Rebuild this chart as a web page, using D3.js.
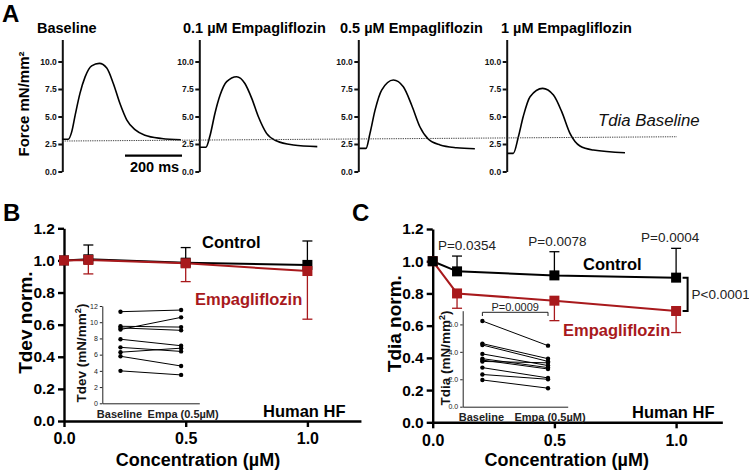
<!DOCTYPE html>
<html><head><meta charset="utf-8">
<script src="https://cdn.jsdelivr.net/npm/d3@7"></script>
<style>
body{margin:0;background:#fff}
svg{display:block;background:#fff}
text{font-family:"Liberation Sans",Arial,Helvetica,sans-serif}
</style>
</head><body>
<svg id="chart" width="749" height="470"></svg>
<script>
// ---------------- DATA ----------------
// Panel A: force traces (time in ms from trace start, force in mN/mm²)
const traceTitles = ["Baseline", "0.1 µM Empagliflozin", "0.5 µM Empagliflozin", "1 µM Empagliflozin"];
const forceTicks = [0, 2.5, 5, 7.5, 10];
const trace1Time  = [0, 21, 33, 45, 62, 80, 103, 130, 156, 179, 202, 226, 255, 290, 349, 416];
const trace1Force = [2.93, 2.93, 3.6, 5.1, 7.1, 8.6, 9.6, 9.83, 9.4, 8.0, 6.2, 4.7, 3.8, 3.3, 3.0, 2.88];
const trace2Time  = [2, 23, 38, 55, 73, 96, 131, 160, 184, 207, 236, 272, 330, 414];
const trace2Force = [2.2, 2.2, 3.3, 5.3, 6.95, 8.17, 8.62, 8.0, 6.65, 5.0, 3.47, 2.77, 2.41, 2.26];
const trace3Time  = [4, 27, 41, 59, 82, 123, 158, 187, 216, 246, 287, 345, 409];
const trace3Force = [2.1, 2.1, 3.47, 5.6, 7.4, 8.32, 7.7, 6.05, 4.07, 2.93, 2.41, 2.16, 2.07];
const trace4Time  = [2, 23, 41, 58, 82, 126, 164, 193, 222, 257, 304, 415];
const trace4Force = [1.65, 1.65, 3.16, 5.0, 6.8, 7.56, 6.95, 5.44, 3.47, 2.32, 1.95, 1.71];
const tdiaBaselineLevels = [2.77, 3.16];   // dotted reference line (start in panel 1, end in panel 4)
const scaleBarMs = 200;

// Panels B & C: normalised force vs concentration
const concentrations = [0, 0.1, 0.5, 1.0];
const concTicks = [0, 0.5, 1.0];
const normTicks = [0, 0.2, 0.4, 0.6, 0.8, 1.0, 1.2];
const tdevControl        = [1.0, 1.007, 0.986, 0.972];
const tdevControlErrUp   = [null, 1.096, 1.08, 1.121];
const tdevEmpa           = [1.0, 1.003, 0.982, 0.934];
const tdevEmpaErrDown    = [null, 0.916, 0.868, 0.634];
const tdiaControl        = [1.0, 0.937, 0.912, 0.898];
const tdiaControlErrUp   = [null, 1.032, 1.059, 1.080];
const tdiaEmpa           = [1.0, 0.80, 0.755, 0.691];
const tdiaEmpaErrDown    = [null, 0.708, 0.631, 0.557];
const tdiaPLabels = ["P=0.0354", "P=0.0078", "P=0.0004"];
const tdiaOverallP = "P<0.0001";

// Insets: paired values
const insetGroups = ["Baseline", "Empa (0.5µM)"];
const insetTdevTicks = [0, 2, 4, 6, 8, 10, 12];
const tdevBaseline = [11.3, 9.5, 9.3, 9.1, 7.9, 6.9, 6.3, 5.8, 4.0];
const tdevEmpaPair = [11.5, 9.4, 9.0, 10.6, 7.1, 6.4, 6.8, 4.6, 3.5];
const insetTdiaTicks = [0, 2, 4, 6];
const tdiaBaseline = [6.25, 4.6, 4.5, 3.85, 3.5, 3.4, 3.3, 2.85, 2.35, 1.95];
const tdiaEmpaPair = [4.45, 3.5, 3.3, 3.0, 2.85, 2.75, 3.2, 2.1, 2.0, 1.35];
const insetP = "P=0.0009";

// ---------------- DRAWING ----------------
const RED = "#a8191c";
const svg = d3.select("#chart");
const FONT = '"Liberation Sans",Arial,Helvetica,sans-serif';

function styleAxis(g, sw, fs, weight, color) {
  g.selectAll("path.domain").attr("stroke", color || "#000").attr("stroke-width", sw);
  g.selectAll(".tick line").attr("stroke", color || "#000").attr("stroke-width", sw);
  g.selectAll(".tick text").attr("font-size", fs).attr("font-weight", weight).attr("fill", color || "#000")
    .attr("font-family", FONT);
}

// ---- Panel A ----
svg.append("text").attr("x", 2).attr("y", 22).attr("font-size", 24).attr("font-weight", "bold").text("A");
const traces = [
  {t: trace1Time, f: trace1Force},
  {t: trace2Time, f: trace2Force},
  {t: trace3Time, f: trace3Force},
  {t: trace4Time, f: trace4Force}
];
const axisXs = [62.3, 199.3, 358.3, 506.7];
const titleXs = [37, 183, 340, 501];
const pxPerMs = 0.285;
const yA = d3.scaleLinear().domain([0, 12]).range([171.5, 39.5]);
const xAs = axisXs.map(ax => d3.scaleLinear().domain([0, 100]).range([ax, ax + 100 * pxPerMs]));

traces.forEach((tr, i) => {
  const g = svg.append("g").attr("transform", `translate(${axisXs[i]},0)`);
  g.call(d3.axisLeft(yA).tickValues(forceTicks).tickFormat(d3.format(".1f")).tickSize(4).tickSizeOuter(0).tickPadding(1.5))
   .call(a => styleAxis(a, 2, 8.5, "bold", "#111"));
  const line = d3.line().x((d, k) => xAs[i](tr.t[k])).y((d, k) => yA(tr.f[k])).curve(d3.curveMonotoneX);
  svg.append("path").datum(tr.t).attr("d", line).attr("fill", "none").attr("stroke", "#000").attr("stroke-width", 1.6);
  svg.append("text").attr("x", titleXs[i]).attr("y", 33).attr("font-size", 14.5).attr("font-weight", "bold").text(traceTitles[i]);
});

// dotted Tdia baseline
svg.append("line")
  .attr("x1", xAs[0](0)).attr("y1", yA(tdiaBaselineLevels[0]))
  .attr("x2", xAs[3](597)).attr("y2", yA(tdiaBaselineLevels[1]))
  .attr("stroke", "#444").attr("stroke-width", 1).attr("stroke-dasharray", "1.3,1");
svg.append("text").attr("x", 598).attr("y", 126).attr("font-family", "Lato, 'Open Sans', sans-serif")
  .attr("font-style", "italic").attr("font-size", 16.8).attr("fill", "#111").text("Tdia Baseline");

// scale bar
svg.append("line").attr("x1", xAs[0](220)).attr("x2", xAs[0](220 + scaleBarMs))
  .attr("y1", yA(1.44)).attr("y2", yA(1.44)).attr("stroke", "#000").attr("stroke-width", 2.2);
svg.append("text").attr("x", (xAs[0](220) + xAs[0](220 + scaleBarMs)) / 2 + 1).attr("y", 172)
  .attr("text-anchor", "middle").attr("font-size", 14.5).attr("font-weight", "bold").text(scaleBarMs + " ms");

// Force label
svg.append("text").attr("transform", "translate(29,104) rotate(-90)").attr("text-anchor", "middle")
  .attr("font-size", 15).attr("font-weight", "bold")
  .text("Force mN/mm²");

// ---- Panels B & C ----
function concPanel(opts) {
  const x = d3.scaleLinear().domain([0, opts.xMax]).range([opts.x0, opts.x0 + opts.xMax * 243.4]);
  const y = d3.scaleLinear().domain([0, 1.2]).range([opts.y0, opts.y1]);
  svg.append("text").attr("x", opts.letterX).attr("y", 221).attr("font-size", 24).attr("font-weight", "bold").text(opts.letter);

  svg.append("g").attr("transform", `translate(0,${opts.y0})`)
    .call(d3.axisBottom(x).tickValues(concTicks).tickFormat(d3.format(".1f")).tickSize(6).tickSizeOuter(0).tickPadding(6))
    .call(a => styleAxis(a, 2.4, 16, "bold"));
  svg.append("g").attr("transform", `translate(${opts.x0},0)`)
    .call(d3.axisLeft(y).tickValues(normTicks).tickFormat(d3.format(".1f")).tickSize(6).tickSizeOuter(0).tickPadding(3))
    .call(a => styleAxis(a, 2.4, 15.5, "bold"));

  svg.append("text").attr("x", (opts.x0 + x(1.2)) / 2 - 12).attr("y", 466).attr("text-anchor", "middle")
    .attr("font-size", 18).attr("font-weight", "bold").text("Concentration (µM)");
  svg.append("text").attr("transform", `translate(${opts.x0 - 32},${(opts.y0 + opts.y1) / 2 - 2}) rotate(-90)`)
    .attr("text-anchor", "middle").attr("font-size", 19).attr("font-weight", "bold").text(opts.yTitle);

  const series = opts.order;
  series.forEach(s => {
    const line = d3.line().x((d, k) => x(concentrations[k])).y(d => y(d));
    svg.append("path").datum(s.vals).attr("d", line).attr("fill", "none").attr("stroke", s.color).attr("stroke-width", 2);
    s.err.forEach((e, k) => {
      if (e == null) return;
      const cx = x(concentrations[k]);
      svg.append("line").attr("x1", cx).attr("x2", cx).attr("y1", y(s.vals[k])).attr("y2", y(e))
        .attr("stroke", s.color).attr("stroke-width", 1.3);
      svg.append("line").attr("x1", cx - 5).attr("x2", cx + 5).attr("y1", y(e)).attr("y2", y(e))
        .attr("stroke", s.color).attr("stroke-width", 1.3);
    });
  });
  series.forEach(s => {
    svg.append("g").selectAll("rect").data(s.vals).join("rect")
      .attr("x", (d, k) => x(concentrations[k]) - 5).attr("y", d => y(d) - 5)
      .attr("width", 10).attr("height", 10).attr("fill", s.color);
  });
  return {x, y};
}

const B = concPanel({
  letter: "B", letterX: 3, x0: 64, xMax: 1.22, y0: 421, y1: 228.3, yTitle: "Tdev norm.",
  order: [
    {vals: tdevControl, err: tdevControlErrUp, color: "#000"},
    {vals: tdevEmpa, err: tdevEmpaErrDown, color: RED}
  ]
});
svg.append("text").attr("x", 202).attr("y", 247.5).attr("font-size", 16.5).attr("font-weight", "bold").text("Control");
svg.append("text").attr("x", 195).attr("y", 305).attr("font-size", 16.5).attr("font-weight", "bold").attr("fill", RED).text("Empagliflozin");
svg.append("text").attr("x", 263).attr("y", 416.5).attr("font-size", 16.5).attr("font-weight", "bold").text("Human HF");

const C = concPanel({
  letter: "C", letterX: 352, x0: 432.7, xMax: 1.19, y0: 422.3, y1: 229, yTitle: "Tdia norm.",
  order: [
    {vals: tdiaEmpa, err: tdiaEmpaErrDown, color: RED},
    {vals: tdiaControl, err: tdiaControlErrUp, color: "#000"}
  ]
});
svg.append("text").attr("x", 583).attr("y", 270).attr("font-size", 16.5).attr("font-weight", "bold").text("Control");
svg.append("text").attr("x", 563).attr("y", 336).attr("font-size", 16.5).attr("font-weight", "bold").attr("fill", RED).text("Empagliflozin");
svg.append("text").attr("x", 632).attr("y", 417.5).attr("font-size", 16.5).attr("font-weight", "bold").text("Human HF");

// P-values in C
const pOffsets = [10, 3, -6];
tdiaPLabels.forEach((p, i) => {
  const k = i + 1;
  svg.append("text").attr("x", C.x(concentrations[k]) + pOffsets[i]).attr("y", C.y(tdiaControlErrUp[k]) - 6)
    .attr("text-anchor", "middle").attr("font-size", 13.5).attr("fill", "#222").text(p);
});
// bracket
const bx = C.x(1.0) + 11.5;
const by1 = C.y(tdiaControl[3]), by2 = C.y(tdiaEmpa[3]);
svg.append("path").attr("d", `M${bx - 5},${by1}H${bx}V${by2}H${bx - 5}`).attr("fill", "none")
  .attr("stroke", "#000").attr("stroke-width", 2);
svg.append("text").attr("x", bx + 4).attr("y", (by1 + by2) / 2 + 5).attr("font-size", 13.5).attr("fill", "#222").text(tdiaOverallP);

// ---- Insets ----
function inset(o) {
  const x = d3.scalePoint().domain(insetGroups).range([o.x0, o.x1]).padding(0.3);
  const y = d3.scaleLinear().domain([0, o.yMax]).range([o.y0, o.y1]);
  const gx = svg.append("g").attr("transform", `translate(0,${o.y0})`)
    .call(d3.axisBottom(x).tickSize(0).tickSizeOuter(0).tickPadding(7))
    .call(a => styleAxis(a, 1, 11, "bold", "#222"));
  gx.selectAll(".tick text").attr("dx", (d, i) => i === 0 ? -1.5 : 1.5);
  svg.append("g").attr("transform", `translate(${o.x0},0)`)
    .call(d3.axisLeft(y).tickValues(o.ticks).tickSize(2.5).tickSizeOuter(0).tickPadding(2))
    .call(a => styleAxis(a, 1, 7, "normal", "#222"));
  svg.append("text").attr("transform", `translate(${o.labelX},${o.labelY}) rotate(-90)`)
    .attr("text-anchor", "middle").attr("font-size", 13.5).attr("font-weight", "bold").attr("fill", "#111")
    .call(t => { t.append("tspan").text(o.label + " (mN/mm");
                 t.append("tspan").attr("font-size", 9).attr("dy", -5).text("2");
                 t.append("tspan").attr("dy", 5).text(")"); });
  o.a.forEach((v, i) => {
    svg.append("line").attr("x1", x(insetGroups[0])).attr("y1", y(v))
      .attr("x2", x(insetGroups[1])).attr("y2", y(o.b[i])).attr("stroke", "#000").attr("stroke-width", 1);
  });
  const pts = o.a.map(v => [insetGroups[0], v]).concat(o.b.map(v => [insetGroups[1], v]));
  svg.append("g").selectAll("circle").data(pts).join("circle")
    .attr("cx", d => x(d[0])).attr("cy", d => y(d[1])).attr("r", 2.2).attr("fill", "#000");
  return {x, y};
}
inset({x0: 102.3, x1: 199.3, y0: 403.3, y1: 306, yMax: 12, ticks: insetTdevTicks,
       a: tdevBaseline, b: tdevEmpaPair, label: "Tdev", labelX: 86, labelY: 353});
const IC = inset({x0: 462.7, x1: 567.7, y0: 406.7, y1: 310.7, yMax: 7, ticks: insetTdiaTicks,
       a: tdiaBaseline, b: tdiaEmpaPair, label: "Tdia", labelX: 450, labelY: 358});
const px1 = IC.x(insetGroups[0]), px2 = IC.x(insetGroups[1]);
svg.append("path").attr("d", `M${px1},316V312.3H${px2}V316`).attr("fill", "none").attr("stroke", "#222").attr("stroke-width", 1);
svg.append("text").attr("x", (px1 + px2) / 2).attr("y", 310.5).attr("text-anchor", "middle")
  .attr("font-size", 11).attr("fill", "#222").text(insetP);
</script>
</body></html>
